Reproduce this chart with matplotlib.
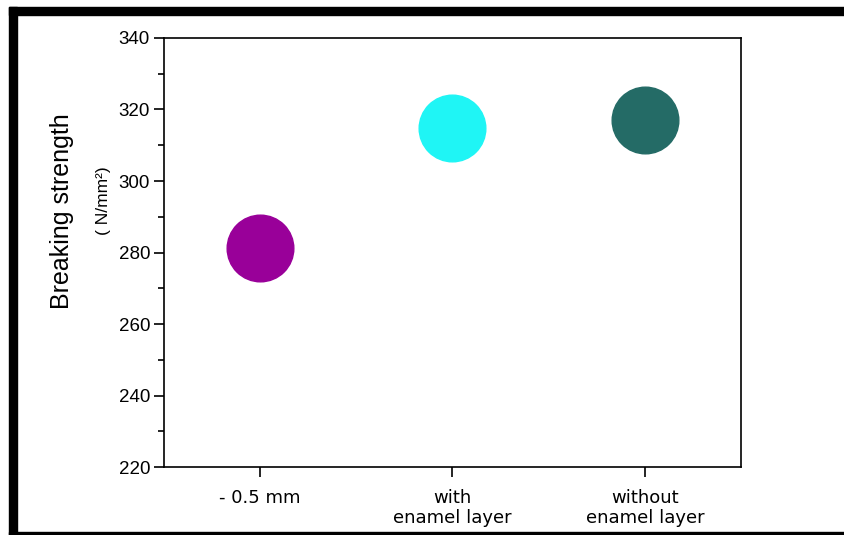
import matplotlib.pyplot as plt
from matplotlib.patches import Rectangle

plt.rcParams['font.family'] = ['Liberation Sans', 'DejaVu Sans']

# data
groups = ["- 0.5 mm", "with\nenamel layer", "without\nenamel layer"]
strength = [281.3, 314.8, 317.1]
colours = ["#990099", "#1ff5f5", "#246b66"]
positions = [1, 2, 3]

fig = plt.figure(figsize=(8.45, 5.35), dpi=100)
ax = fig.add_axes([0.194, 0.127, 0.683, 0.802])

for x, y, c in zip(positions, strength, colours):
    ax.plot(x, y, marker="o", markersize=48, color=c, linestyle="None")

ax.set_xlim(0.5, 3.5)
ax.set_ylim(220, 340)
ax.set_yticks(range(220, 341, 20))
ax.set_yticks(range(230, 340, 20), minor=True)
ax.set_xticks(positions)
ax.set_xticklabels(groups, fontsize=13, linespacing=1.1, family="DejaVu Sans")
ax.tick_params(axis="y", labelsize=13.5, length=7, width=1.2, direction="out", pad=3)
ax.tick_params(axis="y", which="minor", length=4, width=1.2)
ax.tick_params(axis="x", length=7, width=1.2, direction="out", pad=9)
for s in ax.spines.values():
    s.set_linewidth(1.2)

fig.text(0.073, 0.606, "Breaking strength", rotation=90, fontsize=18,
         ha="center", va="center")
fig.text(0.122, 0.624, "( N/mm²)", rotation=90, fontsize=12.5,
         ha="center", va="center")

# black frame of the screenshot
fig.patches.append(Rectangle((0.0106, 0.972), 0.99, 0.015, transform=fig.transFigure,
                             color="black", zorder=10))
fig.patches.append(Rectangle((0.0106, 0.0), 0.0095, 0.987, transform=fig.transFigure,
                             color="black", zorder=10))
fig.patches.append(Rectangle((0.0106, 0.0), 0.99, 0.0056, transform=fig.transFigure,
                             color="black", zorder=10))

fig.savefig("out.png", dpi=100)
